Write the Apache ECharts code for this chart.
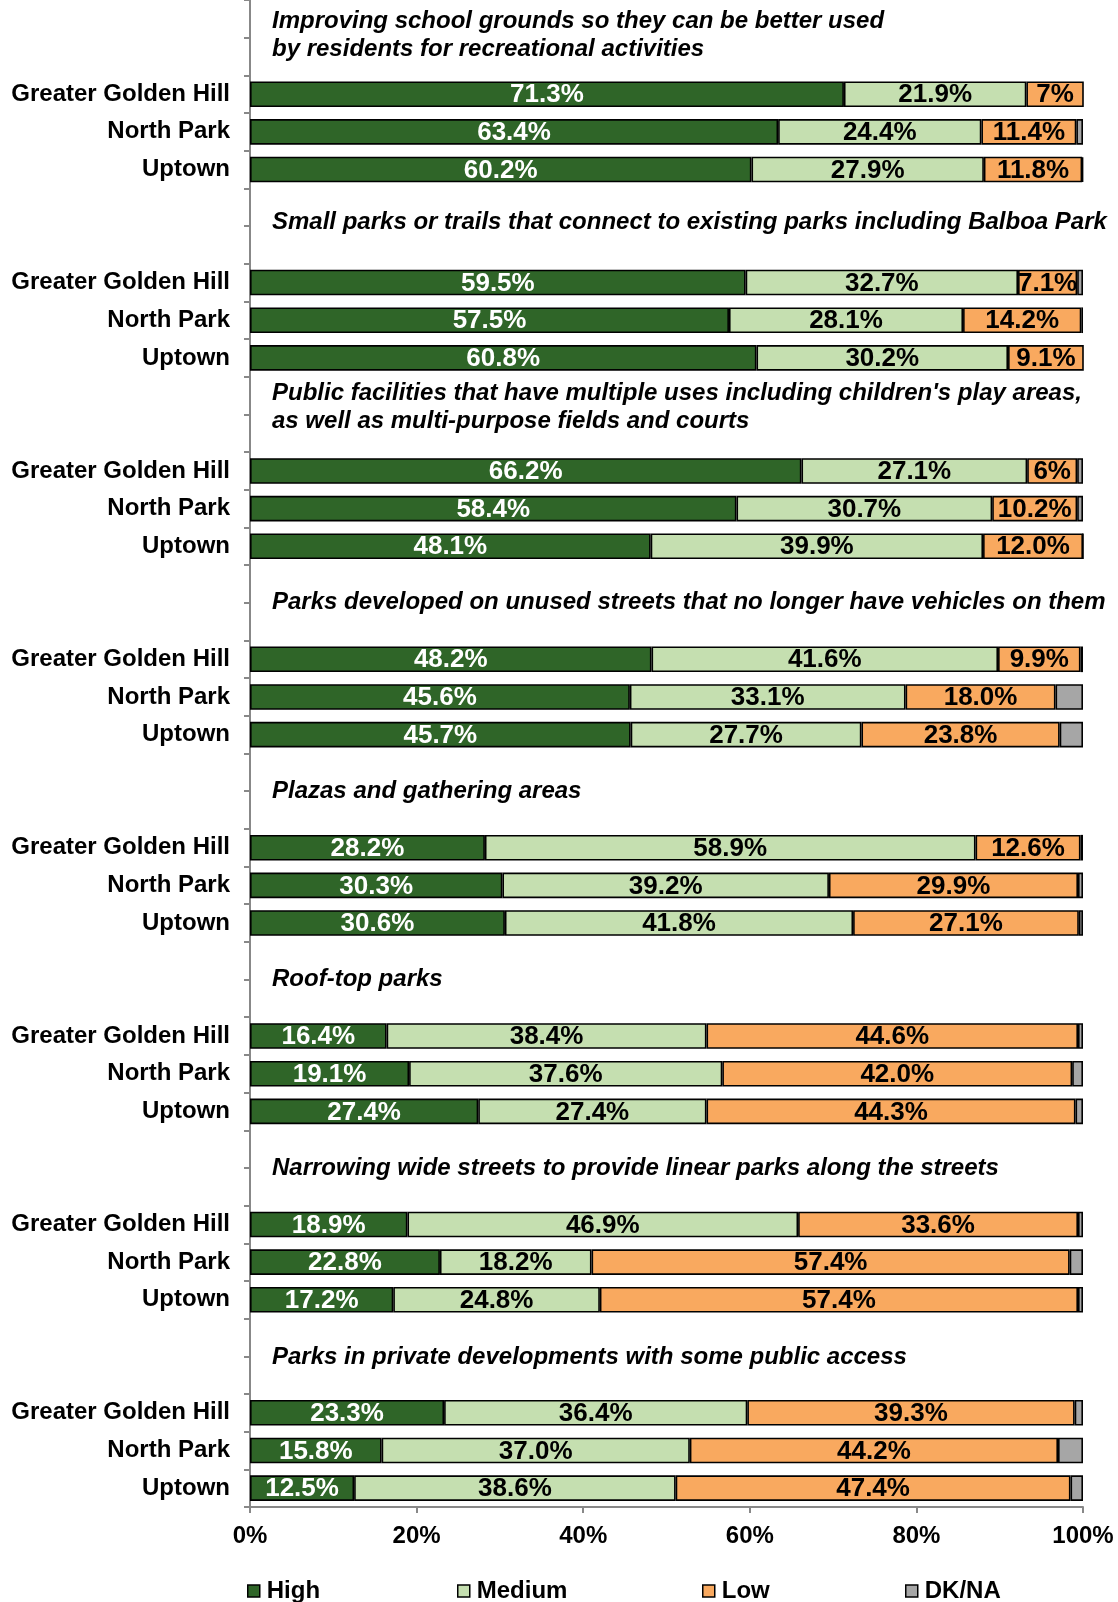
<!DOCTYPE html>
<html>
<head>
<meta charset="utf-8">
<script src="https://cdn.jsdelivr.net/npm/echarts@6/dist/echarts.min.js"></script>
<style>
  html, body { margin: 0; padding: 0; background: #fff; }
  #main { width: 1118px; height: 1602px; }
</style>
</head>
<body>
<div id="main"></div>
<script>
// survey question headings, one per group
var questions = [
  "Improving school grounds so they can be better used\nby residents for recreational activities",
  "Small parks or trails that connect to existing parks including Balboa Park",
  "Public facilities that have multiple uses including children's play areas,\nas well as multi-purpose fields and courts",
  "Parks developed on unused streets that no longer have vehicles on them",
  "Plazas and gathering areas",
  "Roof-top parks",
  "Narrowing wide streets to provide linear parks along the streets",
  "Parks in private developments with some public access"
];
var places = ["Greater Golden Hill", "North Park", "Uptown"];

// values per row, 3 rows per question (labels kept as written in the source)
var high = ["71.3","63.4","60.2", "59.5","57.5","60.8", "66.2","58.4","48.1", "48.2","45.6","45.7",
            "28.2","30.3","30.6", "16.4","19.1","27.4", "18.9","22.8","17.2", "23.3","15.8","12.5"];
var medium = ["21.9","24.4","27.9", "32.7","28.1","30.2", "27.1","30.7","39.9", "41.6","33.1","27.7",
              "58.9","39.2","41.8", "38.4","37.6","27.4", "46.9","18.2","24.8", "36.4","37.0","38.6"];
var low = ["7","11.4","11.8", "7.1","14.2","9.1", "6","10.2","12.0", "9.9","18.0","23.8",
           "12.6","29.9","27.1", "44.6","42.0","44.3", "33.6","57.4","57.4", "39.3","44.2","47.4"];
var dkna = ["0","0.8","0.1", "0.7","0.2","0", "0.7","0.7","0", "0.3","3.3","2.8",
            "0.3","0.6","0.5", "0.6","1.3","0.9", "0.6","1.6","0.6", "1.0","3.0","1.5"];

var xTicks = [0, 20, 40, 60, 80, 100];

// small vertical nudges for the headings (px)
var headNudge = [-2, -4, -7, 0, 0, 0, 0, 1];

// each group: two blank slots (heading) + three rows
var cats = [], sHigh = [], sMed = [], sLow = [], sDk = [];
for (var g = 0; g < questions.length; g++) {
  for (var b = 0; b < 2; b++) {
    cats.push("q" + g + "_" + b);
    sHigh.push("-"); sMed.push("-"); sLow.push("-"); sDk.push("-");
  }
  for (var p = 0; p < places.length; p++) {
    var k = g * 3 + p;
    cats.push(places[p] + "#" + g);
    sHigh.push(high[k]); sMed.push(medium[k]); sLow.push(low[k]); sDk.push(dkna[k]);
  }
}

var font = "Liberation Sans, Arial, sans-serif";
var chart = echarts.init(document.getElementById("main"));

function barSeries(name, data, color, labelColor, showLabel) {
  return {
    name: name,
    type: "bar",
    stack: "all",
    data: data,
    barWidth: "68%",
    itemStyle: { color: color, borderColor: "#000", borderWidth: 1.6 },
    label: {
      show: showLabel,
      position: "inside",
      offset: [0, 1],
      color: labelColor,
      fontFamily: font,
      fontWeight: "bold",
      fontSize: 26,
      formatter: function (p) { return p.data + "%"; }
    },
    emphasis: { disabled: true }
  };
}

function legendAt(name, left) {
  return {
    data: [name],
    left: left,
    top: 1574,
    icon: "rect",
    itemWidth: 12,
    itemHeight: 12,
    itemStyle: { borderColor: "#000", borderWidth: 1.5 },
    textStyle: { fontFamily: font, fontWeight: "bold", fontSize: 24, color: "#000", padding: [0, 0, 0, 2] },
    selectedMode: false
  };
}

chart.setOption({
  animation: false,
  backgroundColor: "#fff",
  grid: { left: 250, right: 35, top: -4, bottom: 95, containLabel: false },
  legend: [
    legendAt("High", 242),
    legendAt("Medium", 452),
    legendAt("Low", 697),
    legendAt("DK/NA", 900)
  ],
  xAxis: {
    type: "value",
    min: xTicks[0],
    max: xTicks[xTicks.length - 1],
    interval: 20,
    axisLine: { show: true, lineStyle: { color: "#888", width: 2 } },
    axisTick: { show: true, length: 6, lineStyle: { color: "#888", width: 2 } },
    splitLine: { show: false },
    axisLabel: {
      margin: 17,
      color: "#000",
      fontFamily: font,
      fontWeight: "bold",
      fontSize: 24,
      formatter: "{value}%"
    }
  },
  yAxis: {
    type: "category",
    inverse: true,
    data: cats,
    axisLine: { show: true, lineStyle: { color: "#888", width: 2 } },
    axisTick: { show: true, length: 6, interval: 0, lineStyle: { color: "#888", width: 2 } },
    axisLabel: {
      interval: 0,
      margin: 20,
      color: "#000",
      fontFamily: font,
      fontWeight: "bold",
      fontSize: 24,
      formatter: function (v) { return v.indexOf("#") > 0 ? v.split("#")[0] : ""; }
    }
  },
  series: [
    barSeries("High", sHigh, "#2f6528", "#fff", true),
    barSeries("Medium", sMed, "#c5dfb0", "#000", true),
    barSeries("Low", sLow, "#f9a95f", "#000", true),
    barSeries("DK/NA", sDk, "#a6a6a6", "#000", false)
  ]
});

// question headings sit between the two blank slots of each group
var heads = [];
for (var q = 0; q < questions.length; q++) {
  var y0 = chart.convertToPixel({ yAxisIndex: 0 }, q * 5);
  var y1 = chart.convertToPixel({ yAxisIndex: 0 }, q * 5 + 1);
  var x0 = chart.convertToPixel({ xAxisIndex: 0 }, 0);
  heads.push({
    type: "text",
    x: x0 + 22,
    y: (y0 + y1) / 2 + headNudge[q],
    style: {
      text: questions[q],
      fill: "#000",
      font: "italic bold 24px " + font,
      verticalAlign: "middle",
      align: "left",
      lineHeight: 28
    }
  });
}
chart.setOption({ graphic: heads });
</script>
</body>
</html>
